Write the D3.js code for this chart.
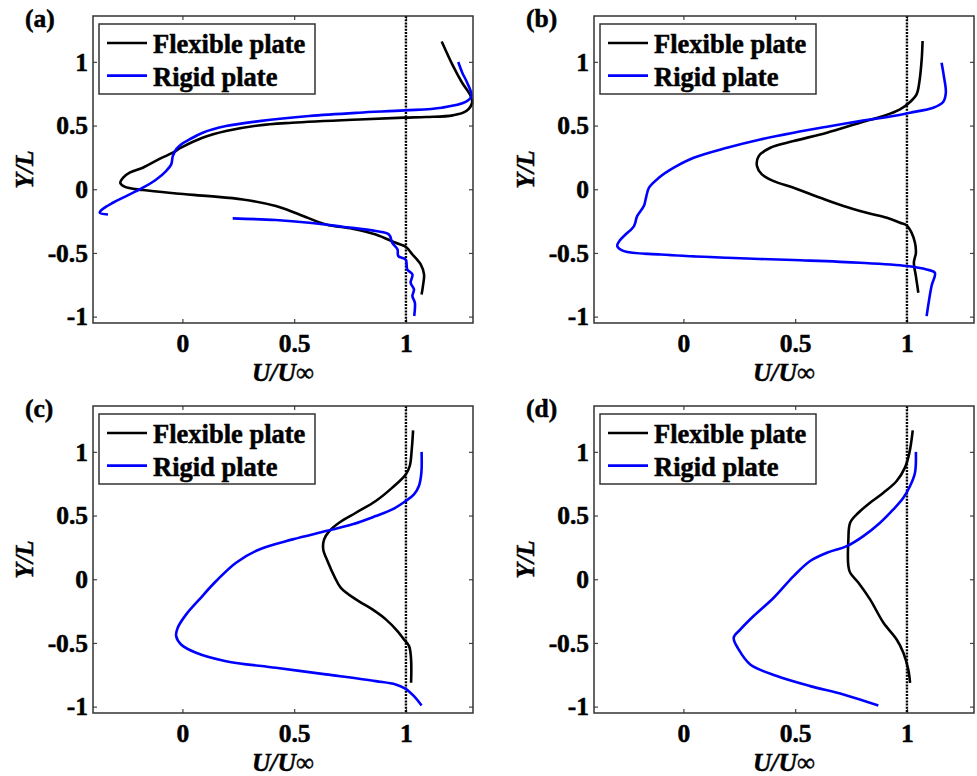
<!DOCTYPE html>
<html>
<head>
<meta charset="utf-8">
<script src="https://cdn.jsdelivr.net/npm/d3@7"></script>
<style>
  html, body { margin: 0; padding: 0; background: #fff; }
  svg { display: block; }
  text { font-family: "Liberation Serif", "Times New Roman", serif; font-weight: bold; fill: #000; stroke: #000; stroke-width: 0.5px; }
</style>
</head>
<body>
<svg id="chart" width="977" height="776"></svg>
<script>
// ---------------- data ----------------
const panelLabels = ["(a)", "(b)", "(c)", "(d)"];
const seriesNames = ["Flexible plate", "Rigid plate"];
const seriesColors = ["#000000", "#0000ff"];
const xTicks = [0, 0.5, 1];
const xTickLabels = ["0", "0.5", "1"];
const yTicks = [-1, -0.5, 0, 0.5, 1];
const yTickLabels = ["-1", "-0.5", "0", "0.5", "1"];
const xLabel = "U/U\u221E";
const yLabel = "Y/L";
const refLineU = 1;

// [U/Uinf, Y/L] pairs; null marks a gap
const flexA = [[1.16,1.16],[1.21,0.97],[1.25,0.84],[1.29,0.73],[1.296,0.68],[1.27,0.614],[1.21,0.58],[1.09,0.567],[0.99,0.562],[0.79,0.548],[0.49,0.522],[0.34,0.501],[0.195,0.457],[0.09,0.404],[-0.006,0.326],[-0.043,0.287],[-0.10,0.24],[-0.177,0.169],[-0.236,0.13],[-0.266,0.09],[-0.278,0.051],[-0.259,0.02],[-0.177,-0.006],[-0.028,-0.033],[0.12,-0.054],[0.27,-0.08],[0.418,-0.132],[0.523,-0.198],[0.642,-0.276],[0.761,-0.31],[0.865,-0.355],[0.954,-0.42],[0.999,-0.451],[1.029,-0.512],[1.066,-0.59],[1.081,-0.669],[1.076,-0.76],[1.07,-0.826]];
const rigidA = [[1.234,0.999],[1.252,0.915],[1.274,0.836],[1.293,0.732],[1.267,0.685],[1.16,0.64],[0.994,0.619],[0.79,0.601],[0.567,0.575],[0.344,0.535],[0.195,0.496],[0.091,0.444],[0.032,0.391],[-0.006,0.352],[-0.028,0.313],[-0.043,0.26],[-0.05,0.195],[-0.073,0.143],[-0.117,0.077],[-0.177,0.012],[-0.251,-0.054],[-0.311,-0.106],[-0.355,-0.153],[-0.37,-0.184],[-0.333,-0.198],null,[0.225,-0.229],[0.418,-0.242],[0.567,-0.263],[0.716,-0.294],[0.865,-0.328],[0.924,-0.355],[0.939,-0.42],[0.962,-0.472],[0.966,-0.525],[0.999,-0.551],[1.006,-0.63],[1.029,-0.669],[1.021,-0.734],[1.036,-0.787],[1.029,-0.839],[1.04,-0.891],[1.037,-0.995]];
const flexB = [[1.07,1.164],[1.066,1.02],[1.055,0.836],[1.043,0.745],[1.014,0.685],[0.969,0.627],[0.895,0.575],[0.79,0.522],[0.642,0.444],[0.493,0.378],[0.389,0.326],[0.337,0.26],[0.329,0.182],[0.351,0.117],[0.404,0.064],[0.493,0.012],[0.612,-0.067],[0.716,-0.132],[0.82,-0.185],[0.91,-0.224],[0.969,-0.263],[0.999,-0.284],[1.021,-0.342],[1.036,-0.42],[1.04,-0.499],[1.031,-0.577],[1.04,-0.682],[1.051,-0.813]];
const rigidB = [[1.155,0.993],[1.165,0.889],[1.174,0.758],[1.162,0.685],[1.118,0.64],[1.014,0.601],[0.939,0.575],[0.79,0.535],[0.642,0.491],[0.493,0.444],[0.344,0.391],[0.195,0.326],[0.046,0.247],[-0.043,0.169],[-0.11,0.09],[-0.154,0.012],[-0.169,-0.08],[-0.177,-0.132],[-0.207,-0.211],[-0.221,-0.289],[-0.259,-0.355],[-0.281,-0.394],[-0.296,-0.446],[-0.266,-0.486],[-0.102,-0.512],[0.195,-0.538],[0.493,-0.556],[0.79,-0.577],[0.999,-0.603],[1.088,-0.63],[1.125,-0.656],[1.11,-0.76],[1.088,-0.996]];
const flexC = [[1.032,1.169],[1.026,1.02],[1.017,0.889],[0.999,0.823],[0.939,0.719],[0.865,0.614],[0.776,0.522],[0.701,0.444],[0.657,0.378],[0.634,0.313],[0.63,0.234],[0.649,0.143],[0.679,0.025],[0.709,-0.067],[0.776,-0.158],[0.85,-0.237],[0.91,-0.315],[0.962,-0.407],[0.991,-0.473],[1.014,-0.525],[1.023,-0.63],[1.023,-0.813]];
const rigidC = [[1.07,1.0],[1.069,0.836],[1.058,0.732],[1.036,0.666],[0.999,0.614],[0.939,0.548],[0.865,0.496],[0.761,0.431],[0.642,0.378],[0.493,0.313],[0.344,0.234],[0.24,0.13],[0.151,-0.014],[0.076,-0.158],[0.017,-0.276],[-0.021,-0.381],[-0.028,-0.446],[-0.006,-0.512],[0.061,-0.577],[0.195,-0.643],[0.418,-0.695],[0.642,-0.747],[0.865,-0.8],[0.954,-0.826],[0.999,-0.86],[1.036,-0.918],[1.07,-0.991]];
const flexD = [[1.026,1.169],[1.011,0.993],[0.991,0.876],[0.954,0.771],[0.895,0.679],[0.835,0.601],[0.783,0.522],[0.746,0.444],[0.738,0.313],[0.738,0.103],[0.746,0.051],[0.783,-0.027],[0.835,-0.158],[0.895,-0.342],[0.954,-0.473],[0.984,-0.577],[1.006,-0.708],[1.014,-0.813]];
const rigidD = [[1.04,1.0],[1.036,0.836],[1.014,0.732],[0.984,0.64],[0.939,0.548],[0.88,0.444],[0.805,0.339],[0.731,0.26],[0.642,0.208],[0.567,0.143],[0.493,0.025],[0.404,-0.145],[0.314,-0.289],[0.255,-0.394],[0.225,-0.459],[0.247,-0.551],[0.299,-0.669],[0.418,-0.76],[0.567,-0.839],[0.716,-0.904],[0.872,-0.991]];

const panelSeries = [[flexA, rigidA], [flexB, rigidB], [flexC, rigidC], [flexD, rigidD]];
const xDomain = [-0.4, 1.3];
const yDomain = [-1.05, 1.36];

// ---------------- layout ----------------
const plotW = 380, plotH = 307;
const origins = [[93, 16], [594, 16], [93, 406], [594, 406]];
const tickFont = 25.5, legendFont = 26.5, labelFont = 25.5;

const svg = d3.select("#chart");
const x = d3.scaleLinear().domain(xDomain).range([0, plotW]);
const y = d3.scaleLinear().domain(yDomain).range([plotH, 0]);
const line = d3.line()
  .defined(d => d !== null)
  .x(d => x(d[0]))
  .y(d => y(d[1]))
  .curve(d3.curveCatmullRom.alpha(0.5));

panelSeries.forEach((series, i) => {
  const [ox, oy] = origins[i];
  const g = svg.append("g").attr("transform", `translate(${ox},${oy})`);

  // axes: inward ticks on all four sides
  const bottom = g.append("g").attr("transform", `translate(0,${plotH})`)
    .call(d3.axisBottom(x).tickValues(xTicks).tickSizeInner(-4).tickSizeOuter(0).tickPadding(10.8)
      .tickFormat((d, k) => xTickLabels[k]));
  const top = g.append("g")
    .call(d3.axisTop(x).tickValues(xTicks).tickSizeInner(-4).tickSizeOuter(0).tickFormat(""));
  const left = g.append("g")
    .call(d3.axisLeft(y).tickValues(yTicks).tickSizeInner(-4).tickSizeOuter(0).tickPadding(5)
      .tickFormat((d, k) => yTickLabels[k]));
  const right = g.append("g").attr("transform", `translate(${plotW},0)`)
    .call(d3.axisRight(y).tickValues(yTicks).tickSizeInner(-4).tickSizeOuter(0).tickFormat(""));
  [bottom, top, left, right].forEach(a => {
    a.select(".domain").remove();
    a.selectAll(".tick line").attr("stroke", "#444").attr("stroke-width", 1.2);
    a.selectAll("text").attr("font-family", "Liberation Serif, serif")
      .attr("font-weight", "bold").attr("font-size", tickFont).attr("fill", "#000");
  });

  // reference line at U/Uinf = 1
  g.append("line")
    .attr("x1", x(refLineU)).attr("x2", x(refLineU))
    .attr("y1", 0).attr("y2", plotH)
    .attr("stroke", "#000").attr("stroke-width", 2.4)
    .attr("stroke-dasharray", "2,1.2");

  // data curves
  series.forEach((s, k) => {
    g.append("path").datum(s)
      .attr("d", line)
      .attr("fill", "none")
      .attr("stroke", seriesColors[k])
      .attr("stroke-width", 2.6)
      .attr("stroke-linejoin", "round");
  });

  // frame
  g.append("rect").attr("x", 0).attr("y", 0).attr("width", plotW).attr("height", plotH)
    .attr("fill", "none").attr("stroke", "#333").attr("stroke-width", 1.5);

  // legend
  const lg = g.append("g").attr("transform", "translate(6,8)");
  lg.append("rect").attr("width", 216).attr("height", 70)
    .attr("fill", "#fff").attr("stroke", "#333").attr("stroke-width", 1.5);
  seriesNames.forEach((name, k) => {
    const ly = 19 + k * 32.6;
    lg.append("line").attr("x1", 8).attr("x2", 48).attr("y1", ly).attr("y2", ly)
      .attr("stroke", seriesColors[k]).attr("stroke-width", 2.6);
    lg.append("text").attr("x", 54).attr("y", ly + 10)
      .attr("font-size", legendFont).text(name);
  });

  // axis labels
  g.append("text").attr("x", plotW / 2).attr("y", plotH + 57.5)
    .attr("text-anchor", "middle").attr("font-style", "italic")
    .attr("font-size", labelFont).text(xLabel);
  g.append("text")
    .attr("transform", `translate(-60,${plotH / 2}) rotate(-90)`)
    .attr("text-anchor", "middle").attr("font-style", "italic")
    .attr("font-size", labelFont).text(yLabel);

  // panel label
  g.append("text").attr("x", -68).attr("y", 11)
    .attr("font-size", labelFont).text(panelLabels[i]);
});
</script>
</body>
</html>
